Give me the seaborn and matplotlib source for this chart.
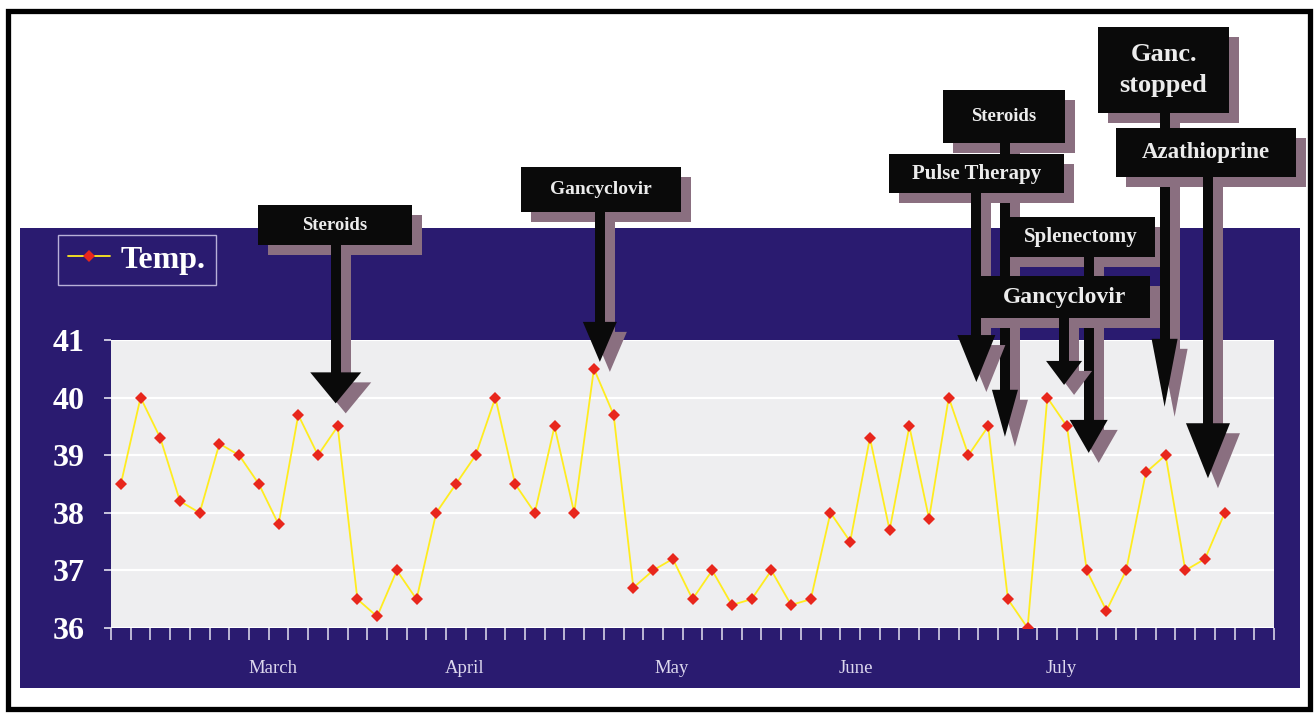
import numpy as np
import pandas as pd
import seaborn as sns
import matplotlib.pyplot as plt
from matplotlib.patches import Rectangle, Polygon

# daily temperatures (deg C), one per category slot
temps = [38.5, 40.0, 39.3, 38.2, 38.0, 39.2, 39.0, 38.5, 37.8, 39.7,
         39.0, 39.5, 36.5, 36.2, 37.0, 36.5, 38.0, 38.5, 39.0, 40.0,
         38.5, 38.0, 39.5, 38.0, 40.5, 39.7, 36.7, 37.0, 37.2, 36.5,
         37.0, 36.4, 36.5, 37.0, 36.4, 36.5, 38.0, 37.5, 39.3, 37.7,
         39.5, 37.9, 40.0, 39.0, 39.5, 36.5, 36.0, 40.0, 39.5, 37.0,
         36.3, 37.0, 38.7, 39.0, 37.0, 37.2, 38.0]
n_slots = 59

months = ["March", "April", "May", "June", "July"]
month_pos = [7.7, 17.45, 27.95, 37.3, 47.7]

y_ticks = [36, 37, 38, 39, 40, 41]

# treatment events: label, where the arrow points (slot, temp)
events = ["Steroids", "Gancyclovir", "Steroids", "Pulse Therapy",
          "Splenectomy", "Gancyclovir", "Ganc.\nstopped", "Azathioprine"]
event_x = [10.9, 24.3, 44.85, 43.4, 49.1, 47.85, 52.95, 55.15]
event_y = [39.9, 40.62, 39.32, 40.27, 39.04, 40.22, 39.84, 38.6]

# callout box layout in pixels (x0, x1, y0, y1), font size, head width, head length
boxes = [(258, 412, 205, 245), (521, 681, 167, 212), (943, 1065, 90, 143),
         (889, 1064, 154, 193), (1007, 1155, 217, 257), (979, 1150, 276, 318),
         (1098, 1229, 27, 113), (1116, 1296, 128, 177)]
box_fs = [13.5, 14, 13.5, 15, 15, 17, 19, 16.5]
heads = [(51, 31), (34, 40), (26, 47), (38, 47), (38, 33), (36, 24), (26, 68), (44, 55)]

W, H = 1316, 715
NAVY = "#2a1b70"
SHADOW = "#8a6f80"
SERIF = ["Liberation Serif", "DejaVu Serif"]

sns.set_theme(style="white")
plt.rcParams["font.family"] = SERIF

df = pd.DataFrame({"day": np.arange(len(temps)), "temp": temps})

fig = plt.figure(figsize=(W / 100, H / 100), dpi=100, facecolor="white")

# background: frame + navy panel
bg = fig.add_axes([0, 0, 1, 1], zorder=-5)
bg.set_xlim(0, W)
bg.set_ylim(H, 0)
bg.axis("off")
bg.add_patch(Rectangle((20, 228), 1280, 460, color=NAVY, lw=0))
bg.add_patch(Rectangle((7.5, 11), 1302, 698, fill=False, ec="black", lw=3.8))

ax = fig.add_axes([111 / W, 1 - 628 / H, (1274 - 111) / W, (628 - 340) / H], zorder=0)
ax.set_facecolor("#eeeef0")
sns.lineplot(data=df, x="day", y="temp", ax=ax, color="#ffec1f", linewidth=1.3,
             marker="D", markersize=6.5, markerfacecolor="#e8261c",
             markeredgewidth=0, label="Temp.")
line = ax.lines[0]
line.set_markerfacecolor("#e8261c")
line.set_markeredgewidth(0)

ax.set_xlim(-0.5, n_slots - 0.5)
ax.set_ylim(36, 41)
for s in ax.spines.values():
    s.set_visible(False)
ax.set_xlabel("")
ax.set_ylabel("")

ax.set_xticks(np.arange(-0.5, n_slots, 1))
ax.set_xticklabels([])
ax.set_xticks(month_pos, minor=True)
ax.set_xticklabels(months, minor=True)
ax.tick_params(axis="x", which="major", direction="out", length=8.5, width=1.1,
               color="#e4e2f0", bottom=True)
ax.tick_params(axis="x", which="minor", length=0, pad=23, labelsize=13.5,
               labelcolor="#ddd8ee", bottom=True)

ax.set_yticks(y_ticks)
ax.set_yticklabels([str(t) for t in y_ticks], fontweight="bold")
ax.tick_params(axis="y", direction="out", length=5, width=1.2, color="#e4e2f0",
               labelsize=23, labelcolor="white", pad=14, left=True)
ax.yaxis.grid(True, color="white", lw=1.6)
ax.set_axisbelow(True)

leg = ax.legend(loc="upper left", bbox_to_anchor=(58 / W, 1 - 235 / H),
                bbox_transform=fig.transFigure, frameon=True, fancybox=False,
                facecolor=NAVY, edgecolor="#b8b0d8", framealpha=1,
                handlelength=1.3, handletextpad=0.35, borderpad=0.32,
                borderaxespad=0, prop={"family": SERIF, "weight": "bold", "size": 23})
leg.get_frame().set_linewidth(1.0)
for t in leg.get_texts():
    t.set_color("white")

# callouts drawn in pixel space, tips taken from the data axes
ov = fig.add_axes([0, 0, 1, 1], zorder=5)
ov.set_xlim(0, W)
ov.set_ylim(H, 0)
ov.axis("off")

sw = 10
sh = 10
for i, label in enumerate(events):
    px, py = ax.transData.transform((event_x[i], event_y[i]))
    tx, ty = px, H - py
    x0, x1, y0, y1 = boxes[i]
    hw, hl = heads[i]
    z = 10 + 2 * i
    for d, col, zz in [(sh, SHADOW, z), (0, "#0a0a0a", z + 1)]:
        ov.add_patch(Rectangle((tx - sw / 2 + d, y1 + d), sw, ty - hl - y1 + 1,
                               color=col, lw=0, zorder=zz))
        ov.add_patch(Polygon([(tx - hw / 2 + d, ty - hl + d), (tx + hw / 2 + d, ty - hl + d),
                              (tx + d, ty + d)], closed=True, color=col, lw=0, zorder=zz))
        ov.add_patch(Rectangle((x0 + d, y0 + d), x1 - x0, y1 - y0, color=col, lw=0, zorder=zz))
    ov.text((x0 + x1) / 2, (y0 + y1) / 2, label, ha="center", va="center",
            color="#ececec", fontsize=box_fs[i], fontweight="bold",
            family=SERIF, linespacing=1.45, zorder=z + 1)

fig.savefig("out.png", dpi=100, facecolor="white")
